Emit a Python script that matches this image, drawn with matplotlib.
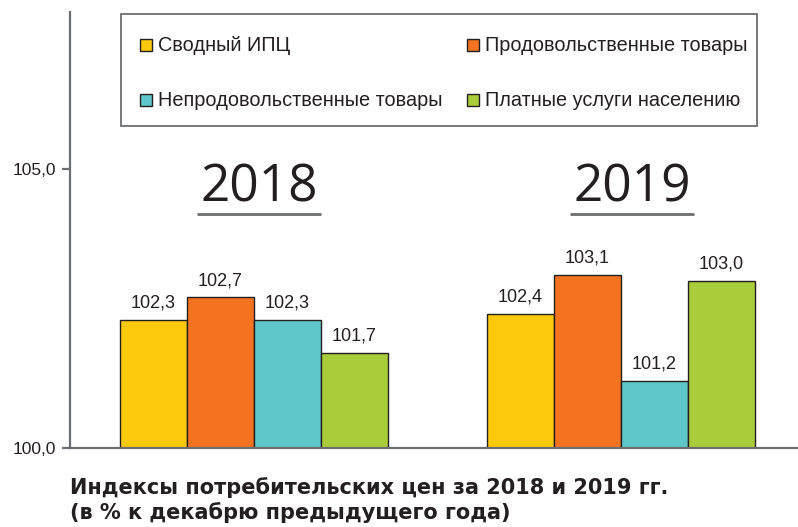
import matplotlib
matplotlib.use("Agg")
import matplotlib.pyplot as plt
from matplotlib.patches import Rectangle
import numpy as np

years = ["2018", "2019"]
series = ["Сводный ИПЦ", "Продовольственные товары",
          "Непродовольственные товары", "Платные услуги населению"]
values = {
    "Сводный ИПЦ": [102.3, 102.4],
    "Продовольственные товары": [102.7, 103.1],
    "Непродовольственные товары": [102.3, 101.2],
    "Платные услуги населению": [101.7, 103.0],
}
value_labels = {
    "Сводный ИПЦ": ["102,3", "102,4"],
    "Продовольственные товары": ["102,7", "103,1"],
    "Непродовольственные товары": ["102,3", "101,2"],
    "Платные услуги населению": ["101,7", "103,0"],
}
yticks = [100.0, 105.0]
ytick_labels = ["100,0", "105,0"]
title_lines = ["Индексы потребительских цен за 2018 и 2019 гг.",
               "(в % к декабрю предыдущего года)"]

colors = ["#FDC90C", "#F37321", "#5FC6CA", "#A9CD3A"]
text_col = "#231F20"
axis_col = "#6D6E71"

W, H = 798, 527
fig = plt.figure(figsize=(W / 100, H / 100), dpi=100)
fig.patch.set_facecolor("white")

def fx(px):
    return px / W

def fy(py):
    return 1 - py / H

ax_left, ax_right, ax_top, ax_bottom = 70, 798, 12, 448
ax = fig.add_axes([fx(ax_left), fy(ax_bottom), fx(ax_right - ax_left),
                   (ax_bottom - ax_top) / H])
ax.set_facecolor("none")

ymin = 100.0
px_per_unit = (448 - 169) / 5.0
ymax = ymin + (ax_bottom - ax_top) / px_per_unit
ax.set_ylim(ymin, ymax)

group_gap_px = 367.0
bar_w = 67.0 / group_gap_px
ax.set_xlim(-184.0 / group_gap_px, 1 + (798 - 621) / group_gap_px)

x = np.arange(len(years))
n = len(series)
for i, s in enumerate(series):
    pos = x + (i - (n - 1) / 2) * bar_w
    vals = np.array(values[s])
    ax.bar(pos, vals - ymin, bottom=ymin, width=bar_w, color=colors[i],
           edgecolor=text_col, linewidth=1.0, zorder=2)
    for xp, v, lab in zip(pos, vals, value_labels[s]):
        ax.annotate(lab, (xp, v), xytext=(0, 6), textcoords="offset points",
                    ha="center", va="bottom", fontsize=13,
                    family="Liberation Sans", color=text_col)

for sp in ["top", "right"]:
    ax.spines[sp].set_visible(False)
for sp in ["left", "bottom"]:
    ax.spines[sp].set_color(axis_col)
    ax.spines[sp].set_linewidth(1.6)
ax.set_xticks([])
ax.set_yticks(yticks)
ax.set_yticklabels(ytick_labels, family="Liberation Sans", fontsize=12.5,
                   color=text_col)
ax.tick_params(axis="y", length=6, width=1.6, color=axis_col, pad=4)

# year headings
year_offsets = [5.0 / group_gap_px, 11.0 / group_gap_px]
for xi, yr, off in zip(x, years, year_offsets):
    ax.text(xi + off, ymin + (448 - 188) / px_per_unit, yr, ha="center",
            va="center", fontsize=37, family="Open Sans", color=text_col)
    uy = ymin + (448 - 214) / px_per_unit
    half = 62.0 / group_gap_px
    ax.plot([xi + off - half, xi + off + half], [uy, uy], color=axis_col,
            lw=2.0, solid_capstyle="butt", clip_on=False)

# legend box (manual)
box = Rectangle((fx(121), fy(126)), fx(757 - 121), (126 - 14) / H,
                transform=fig.transFigure, facecolor="white",
                edgecolor=axis_col, linewidth=1.3, zorder=5)
fig.patches.append(box)
entry_pos = [(140, 45), (467, 45), (140, 100), (467, 100)]
for i, s in enumerate(series):
    sx, sy = entry_pos[i]
    sq = Rectangle((fx(sx), fy(sy + 6)), fx(12), 12 / H,
                   transform=fig.transFigure, facecolor=colors[i],
                   edgecolor=text_col, linewidth=1.0, zorder=6)
    fig.patches.append(sq)
    fig.text(fx(sx + 18), fy(sy), s, ha="left", va="center", fontsize=14.3,
             family="Liberation Sans", color=text_col, zorder=7)

# title
fig.text(fx(70), fy(488), title_lines[0], ha="left", va="center",
         fontsize=15, family="DejaVu Sans", weight="bold", color=text_col)
fig.text(fx(70), fy(513), title_lines[1], ha="left", va="center",
         fontsize=15, family="DejaVu Sans", weight="bold", color=text_col)

fig.savefig("out.png", dpi=100, facecolor="white")
